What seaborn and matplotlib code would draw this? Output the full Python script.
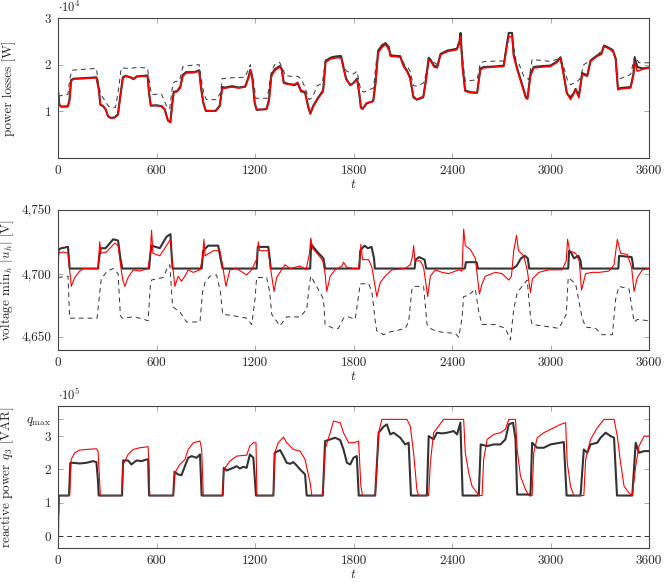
import numpy as np
import pandas as pd
import matplotlib
matplotlib.use("Agg")
import matplotlib.pyplot as plt
import seaborn as sns
from matplotlib.ticker import FuncFormatter, FixedLocator

# ---------------- data ----------------
# Panel 1: power losses [W]
t_loss_red = [0, 8, 20, 60, 70, 80, 95, 150, 200, 234, 248, 258, 275, 290, 305, 320, 345, 365, 380, 395,
              410, 440, 460, 480, 520, 545, 555, 565, 600, 630, 650, 670, 685, 695, 705, 725, 745, 760, 780, 830,
              860, 872, 885, 900, 960, 985, 1000, 1020, 1060, 1100, 1140, 1160, 1172, 1185, 1198, 1210, 1270, 1285, 1300, 1320,
              1350, 1362, 1375, 1400, 1440, 1460, 1480, 1505, 1525, 1537, 1555, 1580, 1600, 1615, 1630, 1660, 1700, 1725, 1740, 1755,
              1780, 1800, 1822, 1835, 1845, 1855, 1880, 1920, 1935, 1950, 1975, 1995, 2015, 2025, 2085, 2105, 2125, 2145, 2165, 2186,
              2225, 2240, 2258, 2270, 2290, 2310, 2330, 2370, 2430, 2445, 2452, 2465, 2480, 2512, 2553, 2573, 2593, 2655, 2715, 2735,
              2746, 2766, 2776, 2797, 2827, 2850, 2860, 2878, 2898, 2950, 3000, 3040, 3061, 3081, 3100, 3122, 3140, 3153, 3173, 3193,
              3224, 3244, 3285, 3310, 3326, 3345, 3366, 3380, 3397, 3411, 3427, 3488, 3505, 3513, 3529, 3560, 3600]
loss_red = [14300, 11500, 11000, 11000, 12000, 16500, 16900, 17000, 17100, 17200, 15000, 11500, 11200, 10500, 9000, 8600, 8600, 9200, 13000, 17000,
            17500, 17400, 17000, 17400, 17500, 17600, 14000, 11300, 11200, 11200, 10500, 8000, 7600, 11000, 14000, 14200, 15000, 17500, 18200, 18300,
            18600, 15000, 12000, 10200, 10000, 11000, 14800, 15000, 15200, 15000, 15200, 17000, 18700, 17000, 12000, 10400, 10400, 12000, 17500, 18700,
            19500, 19000, 16000, 15800, 15800, 16200, 14500, 14200, 11000, 9500, 11000, 12500, 13500, 14200, 20500, 21200, 21500, 21400, 19000, 16800,
            15700, 16000, 16800, 14000, 11000, 10500, 11800, 12100, 16000, 22500, 23800, 24300, 23500, 21800, 21600, 19600, 18600, 17000, 13200, 12600,
            13200, 16000, 21000, 20800, 19500, 19300, 22100, 22800, 23200, 24500, 26000, 19000, 14300, 14000, 13900, 18900, 19300, 19500, 19600, 24000,
            26000, 26000, 21800, 18900, 15400, 12800, 12600, 17500, 19300, 19500, 19600, 20500, 21400, 17500, 13900, 12500, 13600, 14600, 12900, 17900,
            17500, 20700, 21800, 22200, 23900, 23600, 23200, 23000, 21100, 14600, 14800, 15000, 17500, 20400, 18600, 19000, 19300]

t_loss_blk = [0, 8, 20, 60, 70, 80, 95, 150, 200, 234, 248, 258, 275, 290, 305, 320, 345, 365, 380, 395,
              410, 440, 460, 480, 520, 545, 555, 565, 600, 630, 650, 670, 685, 695, 705, 725, 745, 760, 780, 830,
              860, 872, 885, 900, 960, 985, 1000, 1020, 1060, 1100, 1140, 1160, 1172, 1185, 1198, 1210, 1270, 1285, 1300, 1320,
              1350, 1362, 1375, 1400, 1440, 1460, 1480, 1505, 1525, 1537, 1555, 1580, 1600, 1615, 1630, 1660, 1700, 1725, 1740, 1755,
              1780, 1800, 1822, 1835, 1845, 1855, 1880, 1920, 1935, 1950, 1975, 1995, 2015, 2025, 2085, 2105, 2125, 2145, 2165, 2186,
              2225, 2240, 2258, 2270, 2290, 2310, 2330, 2370, 2430, 2445, 2452, 2465, 2480, 2512, 2553, 2573, 2593, 2655, 2715, 2735,
              2746, 2766, 2776, 2797, 2827, 2850, 2860, 2878, 2898, 2950, 3000, 3040, 3061, 3081, 3100, 3122, 3140, 3153, 3173, 3193,
              3224, 3244, 3285, 3310, 3326, 3345, 3366, 3380, 3397, 3411, 3427, 3488, 3505, 3513, 3529, 3560, 3600]
loss_blk = [14500, 11400, 11000, 11100, 12500, 16700, 17000, 17100, 17200, 17300, 14800, 11400, 11100, 10400, 8900, 8600, 8700, 9400, 13500, 17300,
            17600, 17300, 16900, 17500, 17600, 17700, 13800, 11200, 11300, 11100, 10400, 8000, 7700, 11500, 14200, 14300, 15300, 17800, 18400, 18400,
            18800, 14800, 11800, 10100, 10100, 11200, 15200, 15100, 15400, 15100, 15300, 17300, 18900, 16800, 11800, 10300, 10500, 12500, 17800, 19000,
            19700, 19200, 16200, 15900, 15600, 16000, 14300, 14000, 10800, 9500, 11200, 12700, 13700, 14500, 20800, 21500, 21800, 21700, 19300, 17000,
            15600, 16100, 17000, 13800, 10800, 10500, 11700, 12200, 16500, 23000, 24200, 24600, 23800, 22000, 21800, 19800, 18800, 17200, 13000, 12500,
            13000, 16500, 21500, 21000, 19800, 19500, 22300, 23000, 23400, 24800, 26800, 19500, 14500, 14100, 14000, 19200, 19500, 19600, 19800, 24500,
            26800, 26800, 22000, 19200, 15800, 13000, 12800, 18000, 19500, 19700, 19800, 20700, 21600, 17800, 13800, 13000, 13800, 14800, 13300, 18200,
            17700, 20900, 22000, 22400, 24100, 23800, 23400, 23100, 21300, 14800, 15000, 15200, 18000, 21500, 19500, 19200, 19400]

t_loss_dash = [0, 30, 60, 72, 85, 150, 234, 248, 262, 290, 310, 350, 370, 385, 440, 480, 545, 560, 570, 630,
               660, 680, 700, 715, 740, 760, 790, 860, 872, 890, 905, 965, 990, 1000, 1060, 1140, 1172, 1195, 1205, 1275,
               1300, 1320, 1350, 1370, 1385, 1430, 1460, 1480, 1500, 1530, 1550, 1580, 1610, 1630, 1680, 1725, 1740, 1760, 1800, 1822,
               1835, 1845, 1861, 1922, 1940, 1960, 1995, 2020, 2040, 2085, 2110, 2130, 2146, 2165, 2186, 2227, 2250, 2260, 2290, 2310,
               2330, 2430, 2452, 2470, 2481, 2553, 2573, 2600, 2715, 2746, 2766, 2790, 2810, 2837, 2868, 2888, 3000, 3061, 3085, 3102,
               3122, 3163, 3180, 3203, 3285, 3326, 3366, 3397, 3411, 3488, 3513, 3539, 3600]
loss_dash = [13200, 13500, 13600, 17000, 18800, 19000, 19200, 15500, 13600, 12000, 11000, 10800, 15000, 19300, 19200, 19400, 19300, 15500, 13600, 13700,
             11200, 10500, 16000, 16400, 16500, 19500, 19800, 20000, 17000, 13500, 12500, 12500, 14000, 17000, 17200, 17300, 20000, 15500, 12800, 12800,
             18500, 20000, 20500, 19000, 17600, 17500, 17500, 17000, 15500, 12500, 13000, 15500, 16000, 21000, 21800, 22000, 19500, 18600, 18000, 18600,
             16000, 14600, 14100, 15000, 21000, 23000, 24500, 22500, 21800, 21800, 20000, 19600, 18500, 15500, 15400, 16100, 19000, 21400, 20500, 20000,
             22200, 23500, 26200, 19500, 16400, 16800, 20400, 20700, 20800, 26000, 26000, 20800, 20000, 17500, 16800, 21100, 20700, 21400, 19000, 16800,
             15700, 16400, 17000, 20000, 21800, 24000, 23300, 21500, 16800, 17900, 21800, 20400, 20400]

# Panel 2: voltage min_h |u_h| [V]
t_volt_blk = [0, 5, 20, 61, 66, 71, 244, 250, 260, 290, 336, 366, 380, 392, 555, 562, 570, 620, 661, 685,
              692, 698, 875, 885, 915, 976, 990, 1003, 1210, 1217, 1281, 1290, 1296, 1536, 1542, 1587, 1617, 1622, 1627, 1835,
              1841, 1867, 1887, 1910, 1925, 1930, 2172, 2178, 2200, 2233, 2243, 2478, 2485, 2550, 2558, 2770, 2793, 2820, 2844, 2862,
              2870, 3108, 3113, 3128, 3143, 3170, 3183, 3189, 3413, 3418, 3494, 3500, 3504, 3600]
volt_blk = [4714, 4719, 4720, 4721, 4712, 4704, 4704, 4712, 4720, 4720, 4727, 4726, 4712, 4704, 4704, 4715, 4722, 4720, 4729, 4731,
            4715, 4704, 4704, 4718, 4722, 4722, 4712, 4704, 4704, 4721, 4721, 4712, 4704, 4704, 4723, 4716, 4712, 4708, 4704, 4704,
            4718, 4722, 4720, 4721, 4712, 4704, 4704, 4711, 4713, 4711, 4704, 4704, 4709, 4709, 4704, 4704, 4706, 4712, 4714, 4712,
            4704, 4704, 4718, 4716, 4712, 4714, 4710, 4704, 4704, 4714, 4713, 4709, 4704, 4704]

t_volt_red = [0, 4, 30, 61, 71, 81, 102, 132, 153, 244, 250, 254, 262, 295, 346, 366, 385, 395, 407, 427,
              458, 498, 549, 562, 570, 578, 620, 661, 685, 695, 712, 732, 752, 773, 793, 824, 865, 880, 889, 896,
              946, 986, 1000, 1023, 1047, 1088, 1149, 1180, 1212, 1220, 1228, 1281, 1296, 1316, 1332, 1383, 1414, 1475, 1511, 1532,
              1540, 1550, 1597, 1613, 1627, 1637, 1658, 1688, 1729, 1739, 1759, 1800, 1831, 1840, 1845, 1855, 1892, 1912, 1928, 1942,
              1963, 1993, 2034, 2115, 2146, 2160, 2166, 2175, 2207, 2227, 2252, 2268, 2298, 2339, 2380, 2441, 2461, 2471, 2481, 2512,
              2542, 2567, 2583, 2603, 2664, 2705, 2746, 2762, 2776, 2793, 2805, 2837, 2858, 2878, 2890, 2929, 2990, 3071, 3096, 3104,
              3116, 3153, 3175, 3189, 3214, 3254, 3295, 3356, 3387, 3407, 3427, 3468, 3494, 3509, 3529, 3560, 3600]
volt_red = [4691, 4716, 4717, 4716, 4703, 4690, 4697, 4702, 4704, 4704, 4716, 4725, 4716, 4717, 4724, 4722, 4703, 4695, 4690, 4697,
            4703, 4702, 4704, 4716, 4734, 4716, 4714, 4722, 4727, 4710, 4690, 4698, 4694, 4698, 4703, 4701, 4703, 4712, 4727, 4714,
            4718, 4718, 4708, 4690, 4703, 4704, 4699, 4703, 4712, 4725, 4718, 4718, 4703, 4686, 4697, 4707, 4704, 4706, 4703, 4716,
            4728, 4720, 4713, 4710, 4700, 4686, 4698, 4703, 4706, 4709, 4705, 4704, 4704, 4714, 4723, 4711, 4711, 4705, 4693, 4682,
            4693, 4698, 4703, 4704, 4707, 4714, 4722, 4710, 4710, 4705, 4682, 4698, 4703, 4701, 4700, 4703, 4702, 4735, 4722, 4719,
            4712, 4684, 4692, 4698, 4701, 4700, 4695, 4698, 4718, 4730, 4718, 4714, 4703, 4685, 4696, 4701, 4703, 4703, 4710, 4727,
            4718, 4716, 4710, 4687, 4700, 4701, 4701, 4702, 4707, 4727, 4716, 4715, 4705, 4686, 4697, 4703, 4704]

t_volt_dash = [0, 61, 71, 238, 254, 264, 300, 336, 366, 380, 392, 458, 498, 549, 562, 570, 641, 661, 681, 698,
               742, 783, 865, 880, 895, 925, 966, 990, 1003, 1068, 1149, 1180, 1200, 1210, 1271, 1290, 1302, 1352, 1393, 1475,
               1515, 1530, 1540, 1597, 1617, 1627, 1678, 1708, 1739, 1770, 1810, 1831, 1841, 1892, 1912, 1932, 1942, 1983, 2014, 2054,
               2115, 2136, 2156, 2166, 2227, 2248, 2268, 2298, 2339, 2420, 2441, 2461, 2471, 2502, 2542, 2563, 2583, 2664, 2725, 2756,
               2776, 2797, 2827, 2858, 2878, 2888, 2949, 3051, 3096, 3108, 3153, 3193, 3214, 3275, 3315, 3377, 3397, 3417, 3478, 3509,
               3529, 3600]
volt_dash = [4697, 4698, 4665, 4665, 4685, 4696, 4702, 4704, 4700, 4667, 4665, 4666, 4665, 4663, 4690, 4695, 4697, 4703, 4707, 4674,
             4670, 4662, 4662, 4685, 4693, 4698, 4699, 4685, 4668, 4667, 4665, 4660, 4680, 4697, 4697, 4685, 4668, 4659, 4666, 4666,
             4672, 4690, 4698, 4685, 4680, 4660, 4657, 4657, 4665, 4666, 4664, 4683, 4692, 4692, 4686, 4663, 4655, 4652, 4654, 4655,
             4657, 4662, 4688, 4690, 4690, 4660, 4657, 4655, 4654, 4653, 4650, 4665, 4682, 4683, 4688, 4670, 4660, 4660, 4657, 4648,
             4672, 4685, 4690, 4695, 4666, 4660, 4659, 4657, 4668, 4697, 4692, 4665, 4658, 4657, 4652, 4652, 4680, 4690, 4688, 4662,
             4664, 4663]

# Panel 3: reactive power q_3 [VAR]
t_q_blk = [0, 3, 67, 75, 92, 132, 173, 214, 234, 243, 248, 390, 397, 427, 447, 478, 509, 539, 549, 555,
           702, 710, 732, 752, 773, 793, 814, 844, 865, 875, 1003, 1010, 1027, 1068, 1088, 1108, 1129, 1149, 1169, 1190,
           1206, 1312, 1320, 1353, 1373, 1393, 1414, 1434, 1454, 1475, 1505, 1515, 1613, 1627, 1658, 1688, 1719, 1739, 1760, 1780,
           1800, 1820, 1832, 1932, 1953, 1983, 2003, 2024, 2044, 2085, 2115, 2136, 2150, 2247, 2258, 2288, 2308, 2339, 2370, 2410,
           2431, 2451, 2465, 2563, 2575, 2614, 2654, 2695, 2725, 2746, 2772, 2787, 2797, 2870, 2878, 2888, 2919, 2959, 3000, 3081,
           3098, 3183, 3203, 3224, 3244, 3285, 3305, 3336, 3366, 3387, 3405, 3498, 3519, 3539, 3570, 3600]
q_blk = [0, 122000, 122000, 220000, 220000, 218000, 220000, 225000, 222000, 170000, 122000, 122000, 227000, 227000, 215000, 227000, 225000, 230000, 230000, 122000,
         122000, 193000, 185000, 183000, 210000, 235000, 240000, 235000, 245000, 122000, 122000, 205000, 197000, 205000, 210000, 203000, 208000, 205000, 245000, 235000,
         122000, 122000, 250000, 258000, 240000, 220000, 217000, 222000, 212000, 200000, 185000, 122000, 122000, 285000, 290000, 295000, 288000, 260000, 220000, 215000,
         235000, 240000, 122000, 122000, 310000, 328000, 335000, 305000, 310000, 295000, 275000, 280000, 122000, 122000, 300000, 290000, 310000, 308000, 310000, 315000,
         305000, 340000, 122000, 122000, 275000, 270000, 275000, 275000, 290000, 335000, 340000, 290000, 125000, 125000, 122000, 280000, 265000, 265000, 275000, 282000,
         122000, 122000, 260000, 250000, 275000, 280000, 295000, 310000, 300000, 295000, 122000, 122000, 280000, 250000, 255000, 255000]

t_q_red = [0, 5, 8, 71, 80, 102, 132, 173, 234, 244, 250, 258, 386, 397, 427, 458, 498, 549, 555, 559,
           702, 712, 742, 773, 793, 824, 865, 875, 885, 1003, 1010, 1047, 1088, 1149, 1169, 1190, 1206, 1212, 1312, 1320,
           1342, 1373, 1393, 1434, 1475, 1505, 1536, 1546, 1613, 1627, 1658, 1678, 1719, 1739, 1770, 1800, 1831, 1845, 1855, 1932,
           1942, 1953, 1973, 2125, 2146, 2166, 2186, 2196, 2258, 2268, 2288, 2319, 2349, 2471, 2481, 2502, 2522, 2553, 2563, 2583,
           2593, 2614, 2654, 2695, 2725, 2746, 2787, 2797, 2817, 2848, 2868, 2888, 2898, 2919, 2959, 3000, 3061, 3092, 3102, 3122,
           3142, 3203, 3214, 3244, 3285, 3326, 3387, 3407, 3427, 3448, 3478, 3498, 3519, 3539, 3570, 3600]
q_red = [67000, 67000, 122000, 122000, 230000, 250000, 258000, 260000, 262000, 255000, 200000, 122000, 122000, 215000, 245000, 260000, 265000, 268000, 200000, 122000,
         122000, 190000, 215000, 230000, 260000, 280000, 285000, 260000, 122000, 122000, 200000, 225000, 240000, 243000, 270000, 280000, 280000, 122000, 122000, 250000,
         280000, 297000, 280000, 260000, 255000, 230000, 160000, 122000, 122000, 260000, 310000, 345000, 340000, 310000, 280000, 280000, 285000, 150000, 122000, 122000,
         200000, 310000, 350000, 350000, 330000, 250000, 140000, 122000, 122000, 220000, 310000, 330000, 350000, 350000, 250000, 190000, 150000, 130000, 122000, 122000,
         230000, 290000, 305000, 310000, 320000, 350000, 350000, 260000, 180000, 140000, 122000, 122000, 250000, 295000, 310000, 320000, 335000, 340000, 220000, 150000,
         122000, 122000, 230000, 290000, 325000, 350000, 350000, 300000, 220000, 150000, 130000, 122000, 210000, 270000, 300000, 300000]

t_q_dash = [0, 3600]
q_dash = [0, 0]

x_ticks = [0, 600, 1200, 1800, 2400, 3000, 3600]
loss_ticks = [10000, 20000, 30000]
volt_ticks = [4650, 4700, 4750]
q_ticks = [0, 100000, 200000, 300000]
q_max = 350000

# ---------------- style ----------------
sns.set_theme(style="ticks")
plt.rcParams.update({
    "font.family": ["serif"],
    "font.serif": ["cmr10", "DejaVu Serif"],
    "mathtext.fontset": "cm",
    "axes.formatter.use_mathtext": True,
    "axes.unicode_minus": False,
    "font.size": 9.5,
})

W, H = 664, 583
fig = plt.figure(figsize=(W / 100, H / 100), dpi=100)
left, right = 58, 649

def rect(top, bottom):
    return [left / W, 1 - bottom / H, (right - left) / W, (bottom - top) / H]

ax1 = fig.add_axes(rect(18, 158))
ax2 = fig.add_axes(rect(210, 350))
ax3 = fig.add_axes(rect(406, 548))

blk = "#333333"
red = "#ff0000"
dash = (0, (5, 4))

def draw(ax, t, v, **kw):
    df = pd.DataFrame({"t": t, "v": v})
    sns.lineplot(data=df, x="t", y="v", ax=ax, estimator=None, sort=False, legend=False, **kw)

draw(ax1, t_loss_dash, loss_dash, color=blk, lw=0.7, linestyle=dash)
draw(ax1, t_loss_blk, loss_blk, color=blk, lw=1.5)
draw(ax1, t_loss_red, loss_red, color=red, lw=1.1)

draw(ax2, t_volt_dash, volt_dash, color=blk, lw=0.7, linestyle=dash)
draw(ax2, t_volt_blk, volt_blk, color=blk, lw=1.5)
draw(ax2, t_volt_red, volt_red, color=red, lw=0.8)

draw(ax3, t_q_dash, q_dash, color=blk, lw=0.7, linestyle=dash)
draw(ax3, t_q_blk, q_blk, color=blk, lw=1.5)
draw(ax3, t_q_red, q_red, color=red, lw=0.8)

for ax in (ax1, ax2, ax3):
    ax.set_xlim(0, 3600)
    ax.set_xticks(x_ticks)
    ax.set_xticklabels([str(x) for x in x_ticks])
    ax.set_xlabel("$t$", labelpad=1, fontsize=10)
    ax.tick_params(direction="in", top=True, right=True, length=3.5, width=0.6,
                   color="#999999", labelsize=9.5, pad=5)
    for s in ax.spines.values():
        s.set_color("#444444")
        s.set_linewidth(0.8)
    ax.yaxis.set_label_coords(-0.071, 0.5)

ax1.set_ylim(0, 30000)
ax1.set_yticks(loss_ticks)
ax1.yaxis.set_major_formatter(FuncFormatter(lambda v, p: f"{v / 1e4:.0f}"))
ax1.set_ylabel("power losses [W]", fontsize=9.5)
ax1.text(0.0, 1.02, r"$\cdot 10^4$", transform=ax1.transAxes, ha="left", va="bottom", fontsize=9)

ax2.set_ylim(4640, 4750)
ax2.set_yticks(volt_ticks)
ax2.yaxis.set_major_formatter(FuncFormatter(lambda v, p: f"{v:,.0f}"))
ax2.set_ylabel(r"voltage min$_h$ $|u_h|$ [V]", fontsize=9.5)

ax3.set_ylim(-35000, 390000)
ax3.yaxis.set_major_locator(FixedLocator(q_ticks + [q_max]))
ax3.yaxis.set_major_formatter(FuncFormatter(
    lambda v, p: r"$q_{\mathrm{max}}$" if abs(v - q_max) < 1 else f"{v / 1e5:.0f}"))
ax3.set_ylabel(r"reactive power $q_3$ [VAR]", fontsize=9.5)
ax3.text(0.0, 1.02, r"$\cdot 10^5$", transform=ax3.transAxes, ha="left", va="bottom", fontsize=9)

fig.savefig("out.png", dpi=100)
